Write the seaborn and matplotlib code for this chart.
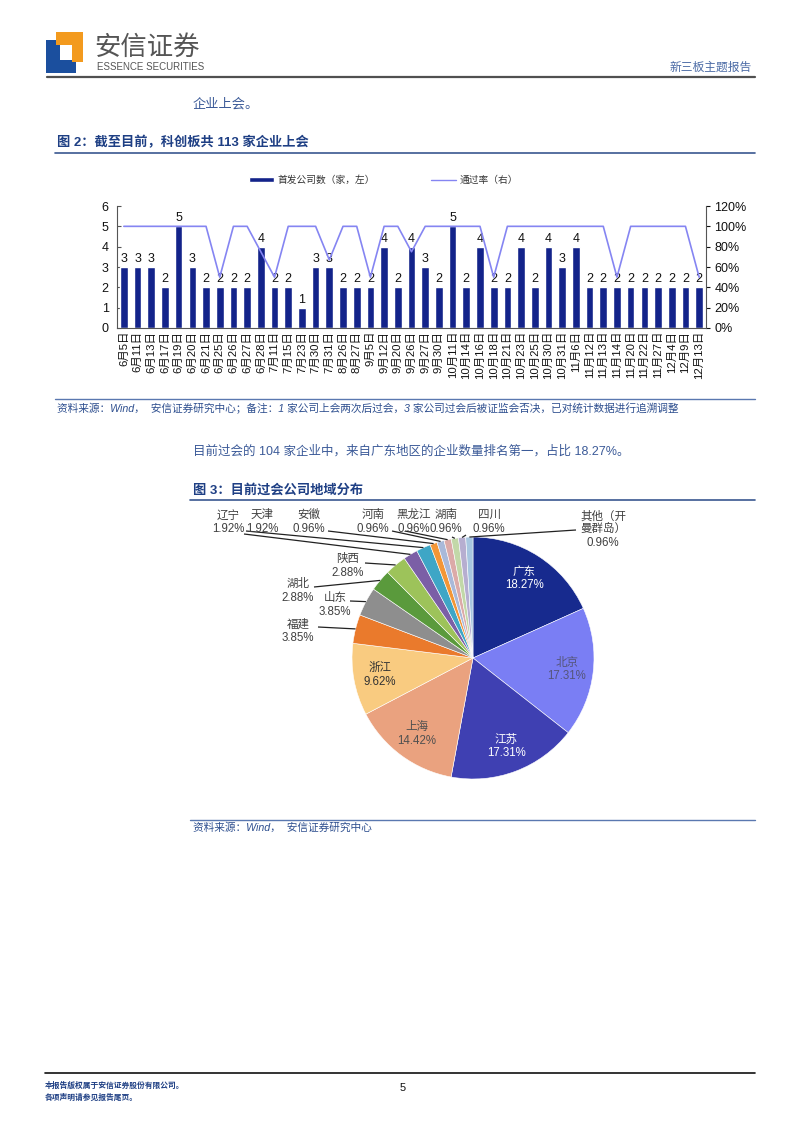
import matplotlib
matplotlib.use('Agg')
import matplotlib.pyplot as plt
from matplotlib.patches import Patch, Polygon
from matplotlib.lines import Line2D
import numpy as np
import pandas as pd
import seaborn as sns


# Figure 2 data: IPO review meetings on the STAR market
dates = ['6月5日', '6月11日', '6月13日', '6月17日', '6月19日', '6月20日', '6月21日',
         '6月25日', '6月26日', '6月27日', '6月28日', '7月11日', '7月15日', '7月23日',
         '7月30日', '7月31日', '8月26日', '8月27日', '9月5日', '9月12日', '9月20日',
         '9月26日', '9月27日', '9月30日', '10月11日', '10月14日', '10月16日', '10月18日',
         '10月21日', '10月23日', '10月25日', '10月30日', '10月31日', '11月6日', '11月12日',
         '11月13日', '11月14日', '11月20日', '11月22日', '11月27日', '12月4日', '12月9日',
         '12月13日']
counts = [3, 3, 3, 2, 5, 3, 2, 2, 2, 2, 4, 2, 2, 1, 3, 3, 2, 2, 2, 4, 2, 4, 3, 2, 5, 2,
          4, 2, 2, 4, 2, 4, 3, 4, 2, 2, 2, 2, 2, 2, 2, 2, 2]
pass_rate = [100, 100, 100, 100, 100, 100, 100, 50, 100, 100, 75, 50, 100, 100, 100, 67,
             100, 100, 50, 100, 100, 75, 100, 100, 100, 100, 100, 50, 100, 100, 100, 100,
             100, 100, 100, 100, 50, 100, 100, 100, 100, 100, 50]

# Figure 3 data: regional distribution of approved companies (%)
regions = ['广东', '北京', '江苏', '上海', '浙江', '福建', '山东', '湖北', '陕西', '辽宁',
           '天津', '安徽', '河南', '黑龙江', '湖南', '四川', '其他（开\n曼群岛）']
shares = [18.27, 17.31, 17.31, 14.42, 9.62, 3.85, 3.85, 2.88, 2.88, 1.92, 1.92,
          0.96, 0.96, 0.96, 0.96, 0.96, 0.96]

# styles
BAR = '#13238a'
LINE = '#8585f2'
PIE_COLORS = ['#172a8e', '#7a7ef4', '#3f40b2', '#eaa27f', '#f9cb80', '#ea7a2c',
              '#8e8e8e', '#5a9a3c', '#9dc35a', '#7b5fa6', '#3ea6c6', '#f39636',
              '#a9b9d9', '#dcaaa8', '#c2d8a8', '#b6aed0', '#a7c6e0']
TITLE = '#1e3f84'
BODY = '#3b5a98'

W, H = 802, 1133

sns.set_style('white')
plt.rcParams['font.family'] = ['Liberation Sans', 'Noto Sans CJK SC', 'DejaVu Sans']

fig = plt.figure(figsize=(W / 100, H / 100), dpi=100)


def fx(px):
    return px / W


def fy(py):
    return 1 - py / H


def hline(x0, x1, y, color, lw):
    fig.add_artist(Line2D([fx(x0), fx(x1)], [fy(y), fy(y)], transform=fig.transFigure,
                          color=color, lw=lw))


def text(x, y, s, **kw):
    kw.setdefault('va', 'center')
    fig.text(fx(x), fy(y), s, **kw)


# header: logo and titles
fig.add_artist(Polygon([(fx(46), fy(40)), (fx(60), fy(40)), (fx(60), fy(60)), (fx(76), fy(60)),
                        (fx(76), fy(73)), (fx(46), fy(73))],
                       closed=True, transform=fig.transFigure, color='#1b4f9e', lw=0))
fig.add_artist(Polygon([(fx(56), fy(32)), (fx(83), fy(32)), (fx(83), fy(62)), (fx(72), fy(62)),
                        (fx(72), fy(45)), (fx(56), fy(45))],
                       closed=True, transform=fig.transFigure, color='#f39a1e', lw=0))
text(94, 47, '安信证券', fontsize=19, color='#555555', weight='medium')
text(97, 67, 'ESSENCE SECURITIES', fontsize=7, color='#555555')
text(752, 68, '新三板主题报告', fontsize=8.5, color='#4a6aa5', ha='right')
hline(47, 755, 77, '#505050', 1.6)

text(193, 104, '企业上会。', fontsize=9.5, color=BODY)
text(57, 143, '图 2：截至目前，科创板共 113 家企业上会', fontsize=9.5, color=TITLE, weight='bold')
hline(55, 755, 153, '#3a5790', 1.2)

# figure 2: bars + pass-rate line
pos = np.arange(len(dates))
df = pd.DataFrame({'pos': pos, 'count': counts, 'rate': pass_rate})

ax = fig.add_axes([fx(117), fy(328), (706 - 117) / W, (328 - 206) / H])
sns.barplot(data=df, x='pos', y='count', native_scale=True, color=BAR, saturation=1,
            width=0.56, ax=ax)
ax.bar_label(ax.containers[0], fontsize=9, padding=1.5, color='#111111')
ax.set_xlim(-0.5, len(dates) - 0.5)
ax.set_ylim(0, 6)
ax.set_yticks(range(0, 7))
ax.set_xticks(pos)
ax.set_xticklabels(dates, rotation=90, fontsize=8.2)
ax.set_xlabel('')
ax.set_ylabel('')
ax.tick_params(axis='x', length=0, pad=2, colors='#111111')
ax.tick_params(axis='y', labelsize=9, length=3, direction='in', pad=6, colors='#111111')
for side in ['top', 'right']:
    ax.spines[side].set_visible(False)
for side in ['left', 'bottom']:
    ax.spines[side].set_color('#555555')
    ax.spines[side].set_linewidth(0.8)
ax.tick_params(axis='y', color='#555555')

ax2 = ax.twinx()
sns.lineplot(data=df, x='pos', y='rate', color=LINE, lw=1.2, ax=ax2)
ax2.set_ylim(0, 120)
ax2.set_yticks(range(0, 121, 20))
ax2.set_yticklabels([f'{v}%' for v in range(0, 121, 20)])
ax2.set_ylabel('')
ax2.set_xlabel('')
ax2.tick_params(axis='y', labelsize=9, length=3, colors='#111111', pad=3)
for side in ['top', 'left', 'bottom']:
    ax2.spines[side].set_visible(False)
ax2.spines['right'].set_color('#555555')
ax2.spines['right'].set_linewidth(0.8)

fig.legend(handles=[Patch(facecolor=BAR), Line2D([], [], color=LINE, lw=1)],
           labels=['首发公司数（家，左）', '通过率（右）'],
           loc='center left', bbox_to_anchor=(fx(249), fy(180)), ncol=2, frameon=False,
           fontsize=7, handlelength=2.6, handleheight=0.5, handletextpad=0.3,
           columnspacing=5.8, borderpad=0, borderaxespad=0, labelcolor='#333333')

hline(55, 755, 399, '#5a78b0', 1.0)
text(57, 408, '资料来源：Wind，  安信证券研究中心；备注：1 家公司上会两次后过会，3 家公司过会后被证监会否决，已对统计数据进行追溯调整',
     fontsize=7.7, color='#2e4f8f', style='italic')

text(193, 451, '目前过会的 104 家企业中，来自广东地区的企业数量排名第一，占比 18.27%。',
     fontsize=9, color=BODY)
text(193, 490, '图 3：目前过会公司地域分布', fontsize=9.5, color=TITLE, weight='bold')
hline(190, 755, 500, '#3a5790', 1.2)

# figure 3: pie
cx, cy, R = 473, 658, 121
pax = fig.add_axes([fx(190), fy(815), (755 - 190) / W, (815 - 505) / H])
wedges, _ = pax.pie(shares, colors=PIE_COLORS, startangle=90, counterclock=False, radius=1,
                    wedgeprops=dict(edgecolor='white', linewidth=0.4))
pax.set_aspect('auto')
pax.set_xlim((190 - cx) / R, (755 - cx) / R)
pax.set_ylim((cy - 815) / R, (cy - 505) / R)
pax.axis('off')

inner_colors = ['white', '#55557a', 'white', '#505050', '#333333']
for w, name, val, col in zip(wedges[:5], regions[:5], shares[:5], inner_colors):
    ang = np.deg2rad((w.theta1 + w.theta2) / 2)
    pax.text(0.78 * np.cos(ang), 0.78 * np.sin(ang), f'{name}\n{val:.2f}%', ha='center',
             va='center', fontsize=8.3, color=col, linespacing=1.15)

# outer label layout in page pixels: text centre and leader start
outer_layout = {
    '福建': (298, 631, 318, 627),
    '山东': (335, 605, 350, 601),
    '湖北': (298, 591, 314, 587),
    '陕西': (348, 566, 365, 563),
    '辽宁': (228, 522, 244, 534),
    '天津': (262, 522, 246, 531),
    '安徽': (309, 522, 328, 531),
    '河南': (373, 522, 392, 531),
    '黑龙江': (414, 522, 405, 531),
    '湖南': (446, 522, 452, 537),
    '四川': (489, 522, 466, 535),
    '其他（开\n曼群岛）': (603, 530, 576, 530),
}
for w, name, val in zip(wedges[5:], regions[5:], shares[5:]):
    tx, ty, lx, ly = outer_layout[name]
    ang = np.deg2rad((w.theta1 + w.theta2) / 2)
    pax.plot([(lx - cx) / R, np.cos(ang)], [(cy - ly) / R, np.sin(ang)], color='#222222',
             lw=0.9, solid_capstyle='butt')
    pax.text((tx - cx) / R, (cy - ty) / R, f'{name}\n{val:.2f}%', ha='center', va='center',
             fontsize=8.3, color='#404040', linespacing=1.15)

hline(190, 755, 820, '#5a78b0', 1.0)
text(193, 828, '资料来源：Wind，  安信证券研究中心', fontsize=7.7, color='#2e4f8f', style='italic')

# footer
hline(45, 755, 1073, '#111111', 1.2)
text(45, 1086, '本报告版权属于安信证券股份有限公司。', fontsize=5.6, color='#1e3f84', weight='bold')
text(45, 1098, '各项声明请参见报告尾页。', fontsize=5.6, color='#1e3f84', weight='bold')
text(403, 1088, '5', fontsize=8, color='#111111', ha='center')

fig.savefig('out.png', dpi=100)
